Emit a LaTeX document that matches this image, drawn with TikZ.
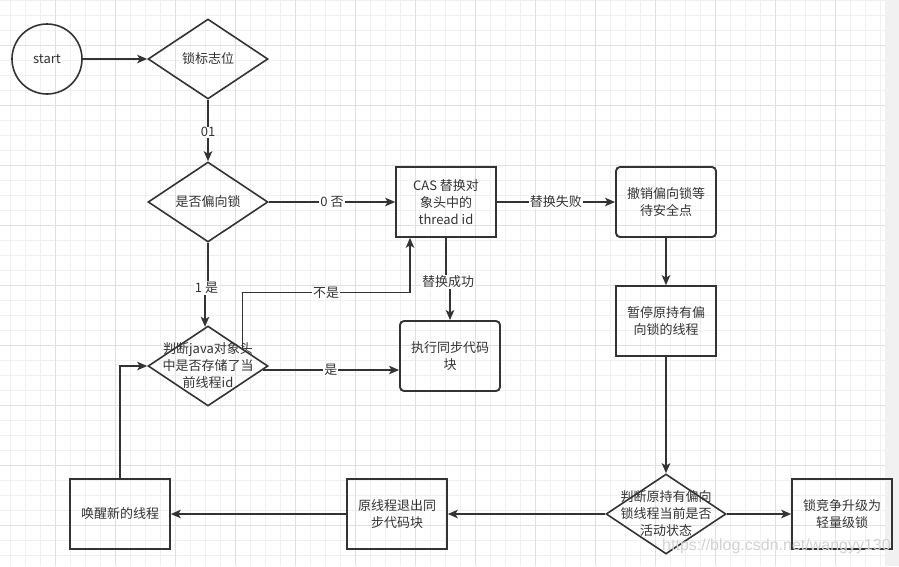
\documentclass[tikz,border=0pt]{standalone}
\usepackage{fontspec}
\setmainfont{Noto Sans CJK SC}
\newfontfamily\wmfont{Liberation Sans}
\usetikzlibrary{shapes.geometric,arrows.meta,positioning}
\definecolor{flowline}{HTML}{333333}
\definecolor{gridminor}{HTML}{F0F0F0}
\definecolor{gridmajor}{HTML}{E0E0E0}
\definecolor{scrollbar}{HTML}{F1F1F1}

\begin{document}
\begin{tikzpicture}[x=1pt,y=-1pt,
  every node/.style={text=flowline,font=\fontsize{13}{17}\selectfont},
  flowbox/.style={draw=flowline,line width=1.6pt,minimum width=100pt,minimum height=70pt,inner sep=0pt,align=center},
  roundbox/.style={flowbox,line width=1.9pt,rounded corners=4pt},
  decision/.style={diamond,draw=flowline,line width=1.6pt,minimum width=120pt,minimum height=80pt,inner sep=0pt},
  dtext/.style={align=center,inner sep=0pt},
  flow/.style={draw=flowline,line width=1.6pt,-{Stealth[length=10pt,width=8.5pt,inset=2.5pt]}},
  elabel/.style={fill=white,inner sep=1pt}]
\useasboundingbox (0,0) rectangle (899,566);

% Background grid
\fill[white] (0,0) rectangle (885,566);
\foreach \gx in {10.7,25.7,...,885} \draw[gridminor,line width=1pt] (\gx,0) -- (\gx,566);
\foreach \gy in {0,15,...,566} \draw[gridminor,line width=1pt] (0,\gy) -- (885,\gy);
\foreach \gx in {55.7,115.7,...,885} \draw[gridmajor,line width=1pt] (\gx,0) -- (\gx,566);
\foreach \gy in {45,105,...,566} \draw[gridmajor,line width=1pt] (0,\gy) -- (885,\gy);
\fill[scrollbar] (885,0) rectangle (899,566);

% Start and lock flag checks
\node[draw=flowline,line width=1.6pt,circle,minimum size=70pt,inner sep=0pt] (start) at (47,59) {start};
\node[decision,label={[dtext]center:锁标志位}] (flag) at (208,59) {};
\node[decision,label={[dtext]center:是否偏向锁}] (biased) at (208,202) {};
\node[decision,label={[dtext]center:{判断java对象头\\中是否存储了当\\前线程id}}] (owner) at (208,366) {};

% CAS branch
\node[flowbox] (cas) at (446,202) {CAS 替换对\\象头中的\\thread id};
\node[roundbox] (exec) at (450,356) {执行同步代码\\块};
\node[roundbox] (undo) at (666,202) {撤销偏向锁等\\待安全点};
\node[flowbox] (pause) at (666,321) {暂停原持有偏\\向锁的线程};

% Revocation branch
\node[decision,label={[dtext]center:{判断原持有偏向\\锁线程当前是否\\活动状态}}] (alive) at (666,514) {};
\node[flowbox] (upgrade) at (842,514) {锁竞争升级为\\轻量级锁};
\node[flowbox] (quit) at (397,514) {原线程退出同\\步代码块};
\node[flowbox] (wake) at (120,514) {唤醒新的线程};

% Connectors
\draw[flow] (start.east) -- (flag.west);
\draw[flow] (flag.south) -- node[elabel,pos=0.53]{01} (biased.north);
\draw[flow] (biased.east) -- node[elabel]{0 否} (cas.west);
\draw[flow] (cas.east) -- node[elabel]{替换失败} (undo.west);
\draw[flow] (cas.south) -- ++(0,44) -- node[elabel]{替换成功} ++(4,0) -- (exec.north);
\draw[flow] (biased.south) -- ++(0,45) -- node[elabel]{1 是} ++(-3,0) -- ++(0,39);
\draw[flow] ([shift={(4pt,-2pt)}]owner.north east) -- ++(0,-55) -| node[elabel,pos=0.25]{不是} ([xshift=-36pt]cas.south);
\draw[flow] ([shift={(-6pt,-4pt)}]owner.east) -- ([yshift=-14pt]exec.west) node[elabel,pos=0.5]{是};
\draw[flow] (undo.south) -- (pause.north);
\draw[flow] (pause.south) -- (alive.north);
\draw[flow] (alive.east) -- (upgrade.west);
\draw[flow] (alive.west) -- (quit.east);
\draw[flow] (quit.west) -- (wake.east);
\draw[flow] (wake.north) |- (owner.west);

% Watermark
\node[text=gray!35,font=\wmfont\fontsize{16}{16}\selectfont,anchor=west,inner sep=0pt] (wmark) at (662,546) {https://blog.csdn.net/wangyy130};
\end{tikzpicture}
\end{document}
